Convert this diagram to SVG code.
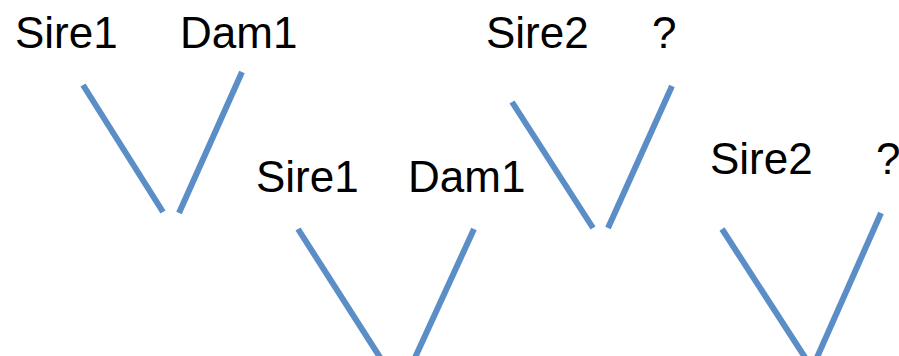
<svg xmlns="http://www.w3.org/2000/svg" width="899" height="356" viewBox="0 0 899 356">
<style>
.lbl{font-family:"Liberation Sans",Arial,sans-serif;font-size:44px;fill:#000}
.edge{stroke:#5B8EC7;stroke-width:6;stroke-linecap:butt;fill:none}
</style>
<rect width="899" height="356" fill="#fff"/>
<g id="connectors">
<line class="edge" x1="83" y1="85" x2="163" y2="212"/>
<line class="edge" x1="242" y1="72" x2="179" y2="213"/>
<line class="edge" x1="512" y1="102" x2="593" y2="228"/>
<line class="edge" x1="672" y1="86" x2="608" y2="228"/>
<line class="edge" x1="298" y1="229" x2="383" y2="362"/>
<line class="edge" x1="474" y1="229" x2="413" y2="362"/>
<line class="edge" x1="722" y1="229" x2="808" y2="362"/>
<line class="edge" x1="881" y1="213" x2="815" y2="362"/>
</g>
<g id="sire1a"><text class="lbl" x="15" y="48">Sire1</text></g>
<g id="dam1a"><text class="lbl" x="180" y="48">Dam1</text></g>
<g id="sire2a"><text class="lbl" x="486" y="48">Sire2</text></g>
<g id="unknown-a"><text class="lbl" x="652" y="48">?</text></g>
<g id="sire1b"><text class="lbl" x="256" y="192">Sire1</text></g>
<g id="dam1b"><text class="lbl" x="408" y="192">Dam1</text></g>
<g id="sire2b"><text class="lbl" x="710" y="174">Sire2</text></g>
<g id="unknown-b"><text class="lbl" x="876" y="174">?</text></g>
</svg>
